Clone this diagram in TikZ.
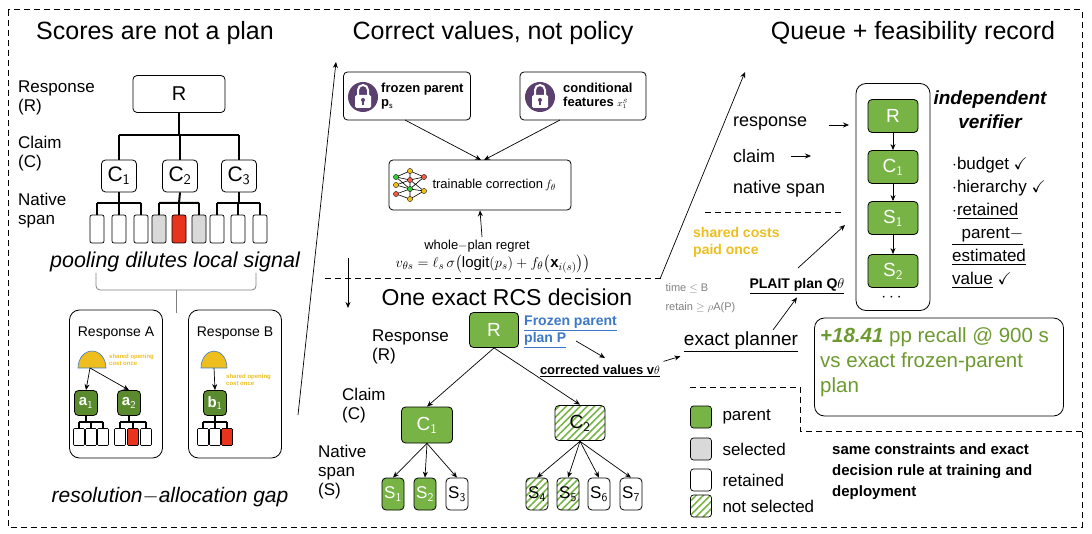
\documentclass[tikz,border=0pt]{standalone}
\usepackage{fontspec}
\setmainfont{Liberation Sans}
\usepackage{amsmath,amssymb}
\usetikzlibrary{arrows.meta,patterns.meta,calc}
\definecolor{gfill}{HTML}{78B445}
\definecolor{gdark}{HTML}{5A8A2E}
\definecolor{redb}{HTML}{E8341C}
\definecolor{grayb}{HTML}{D9D9D9}
\definecolor{yel}{HTML}{EEBE1E}
\definecolor{purp}{HTML}{5B3F6E}
\definecolor{linkb}{HTML}{3C78C8}
\definecolor{restxt}{HTML}{6D9A30}
\tikzset{
  box/.style={draw,rounded corners=4pt,line width=0.8pt},
  gbox/.style={box,fill=gfill,text=white,font=\fontsize{19}{19}\selectfont},
  hbox/.style={box,pattern={Lines[angle=45,distance=5pt,line width=1.6pt]},pattern color=gfill},
  span/.style={draw,rounded corners=2pt,line width=0.7pt,minimum width=14pt,minimum height=28pt,inner sep=0pt},
  tree/.style={line width=2pt},
  arr/.style={-{Stealth[length=6pt,width=5pt]},line width=0.7pt},
  dsh/.style={dashed,dash pattern=on 6pt off 4pt,line width=1pt},
  ttl/.style={font=\fontsize{25}{25}\selectfont},
  lbl/.style={font=\fontsize{17}{19}\selectfont,align=left,anchor=north west,inner sep=0pt},
  lg/.style={draw,rounded corners=3pt,line width=0.7pt,minimum width=21pt,minimum height=22pt,inner sep=0pt},
}
\begin{document}
\begin{tikzpicture}[x=1pt,y=-1pt]
\useasboundingbox (0,0) rectangle (1092,534);
% frame
\draw[dsh] (8,10) rectangle (1082,527);
% titles
\node[ttl] (t1) at (155,33) {Scores are not a plan};
\node[ttl] (t2) at (493,33) {Correct values, not policy};
\node[ttl] (t3) at (913,33) {Queue + feasibility record};

% ---------- left panel
\node[lbl] (lr) at (18,81) {Response\\(R)};
\node[lbl] (lc) at (18,136) {Claim\\(C)};
\node[lbl] (ln) at (18,193) {Native\\span};
\node[box,minimum width=92pt,minimum height=37pt,font=\fontsize{20}{20}\selectfont] (R0) at (179,94) {R};
\foreach \n/\x in {1/119,2/180,3/239}
  \node[box,minimum width=35pt,minimum height=32pt,font=\fontsize{21}{21}\selectfont] (C\n) at (\x,176) {C$_{\mathsf{\n}}$};
\draw[tree] (R0.south) -- (179,135) (119,135) -- (239,135);
\foreach \n/\x in {1/119,2/180,3/239} \draw[tree] (\x,135) -- (C\n.north);
\foreach \i/\x/\c in {1/97/white,2/119/white,3/141/white,4/159/grayb,5/179/redb,6/199/grayb,7/217/white,8/238/white,9/260/white}
  \node[span,fill=\c] (sp\i) at (\x,229) {};
\draw[tree] (C1.south) -- (119,203) (97,203) -- (141,203);
\draw[tree] (C2.south) -- (179,203) (159,203) -- (199,203);
\draw[tree] (C3.south) -- (239,203) (217,203) -- (260,203);
\foreach \i/\x in {1/97,2/119,3/141,4/159,5/179,6/199,7/217,8/238,9/260} \draw[tree] (\x,203) -- (sp\i.north);
\node[font=\itshape\fontsize{21.5}{21.5}\selectfont] (pool) at (175,262) {pooling dilutes local signal};
\draw[gray,line width=0.8pt,rounded corners=4pt] (96,273) -- (96,290) -- (256,290) -- (256,273);
\draw[gray,line width=0.8pt] (176,290) -- (176,313);
% Response A / B
\node[box,minimum width=93pt,minimum height=148pt,rounded corners=10pt] (RA) at (116,384) {};
\node[box,minimum width=93pt,minimum height=148pt,rounded corners=10pt] (RB) at (235,384) {};
\node[font=\fontsize{14}{14}\selectfont] (RAt) at (116,333) {Response A};
\node[font=\fontsize{14}{14}\selectfont] (RBt) at (235,333) {Response B};
\fill[yel,draw=linkb,line width=0.6pt] (78,368) arc (180:360:14 and 17) -- cycle;
\fill[yel,draw=linkb,line width=0.6pt] (201,368) arc (180:360:13 and 17) -- cycle;
\coordinate (ya) at (90,368); \coordinate (yb) at (214,368);
\node[font=\bfseries\fontsize{6}{6.5}\selectfont,text=yel,align=left,anchor=west,inner sep=0pt] (sa) at (109,360) {shared opening\\cost once};
\node[font=\bfseries\fontsize{6}{6.5}\selectfont,text=yel,align=left,anchor=west,inner sep=0pt] (sb) at (226,380) {shared opening\\cost once};
\node[box,fill=gdark,text=white,minimum width=23pt,minimum height=25pt,inner sep=0pt,font=\bfseries\fontsize{15}{15}\selectfont] (a1) at (86,403) {a$_{\mathsf 1}$};
\node[box,fill=gdark,text=white,minimum width=23pt,minimum height=25pt,inner sep=0pt,font=\bfseries\fontsize{15}{15}\selectfont] (a2) at (129,403) {a$_{\mathsf 2}$};
\node[box,fill=gdark,text=white,minimum width=23pt,minimum height=25pt,inner sep=0pt,font=\bfseries\fontsize{15}{15}\selectfont] (b1) at (215,403) {b$_{\mathsf 1}$};
\draw[arr] (ya) -- (a1.north);
\draw[arr] (ya) -- (a2.north);
\draw[arr] (yb) -- (b1.north);
\foreach \x/\c/\nm in {79/white/ka1,91/white/ka2,103/white/ka3,120/white/kb1,133/redb/kb2,146/white/kb3,203/white/kc1,215/white/kc2,227/redb/kc3}
  \node[draw,rounded corners=1pt,line width=0.6pt,fill=\c,minimum width=11pt,minimum height=17pt,inner sep=0pt] (\nm) at (\x,437) {};
\draw[line width=1.6pt] (a1.south) -- (86,422) (79,422) -- (103,422) (79,422)--(ka1.north) (91,422)--(ka2.north) (103,422)--(ka3.north);
\draw[line width=1.6pt] (a2.south) -- (129,422) (120,422) -- (146,422) (120,422)--(kb1.north) (133,422)--(kb2.north) (146,422)--(kb3.north);
\draw[line width=1.6pt] (b1.south) -- (215,422) (203,422) -- (227,422) (203,422)--(kc1.north) (215,422)--(kc2.north) (227,422)--(kc3.north);
\node[font=\itshape\fontsize{21}{21}\selectfont] (gap) at (170,497) {resolution$-$allocation gap};

% ---------- middle top
\coordinate (m1) at (298,415); \coordinate (m2) at (336,62);
\draw[arr] (m1) -- (m2);
\node[box,minimum width=127pt,minimum height=48pt] (fp) at (407,96) {};
\node[box,minimum width=126pt,minimum height=48pt] (cf) at (583,96) {};
\foreach \x in {363,540}{
  \fill[purp] (\x,97) circle (15);
  \draw[white,line width=2pt] (\x-5,96) -- (\x-5,90) arc (180:360:5 and 5) -- (\x+5,96);
  \fill[white,rounded corners=1.5pt] (\x-8,95) rectangle (\x+8,108);
  \fill[purp] (\x,100) circle (2); \fill[purp] (\x-0.9,100) rectangle (\x+0.9,105);
}
\node[font=\bfseries\fontsize{13}{14}\selectfont,align=left,anchor=west,inner sep=1pt] (fpt) at (380,96) {frozen parent\\p$_{\mathsf s}$};
\node[font=\bfseries\fontsize{13}{14}\selectfont,align=left,anchor=west,inner sep=1pt] (cft) at (562,96) {conditional\\features $\scriptstyle x_{1}^{S}$};
\node[box,minimum width=182pt,minimum height=50pt] (tc) at (480,185) {};
\node[font=\fontsize{13}{13}\selectfont,anchor=west] (tct) at (429,185) {trainable correction$\,f_\theta$};
\draw[line width=0.6pt] (396,177)--(410,171)--(424,177) (396,177)--(410,180)--(424,177) (396,185)--(410,189)--(424,191) (396,194)--(410,199)--(424,191) (410,180)--(424,191) (410,189)--(424,177) (396,177)--(410,189) (396,194)--(410,189) (410,171)--(410,199) (396,185)--(410,180);
\foreach \x/\y/\c in {396/177/green!60!gray,396/185/yel,396/194/redb!80,410/171/yel,410/180/redb!80,410/189/green!60!gray,410/199/yel,424/177/redb!80,424/191/yel}
  \fill[\c,draw=black,line width=0.3pt] (\x,\y) circle (2.6);
\draw[arr] (405,120) -- (481,160);
\draw[arr] (560,120) -- (484,160);
\coordinate (wr) at (482,237);
\draw[arr] (wr) -- (tc.south);
\node[font=\fontsize{13}{13}\selectfont] (wpr) at (477,246) {whole$-$plan regret};
\node[font=\fontsize{15}{15}\selectfont] (form) at (493,264) {$v_{\theta s}=\ell_s\,\sigma\bigl(\operatorname{logit}(p_s)+f_\theta\bigl(\mathbf{x}_{i(s)}\bigr)\bigr)$};
\draw[dsh] (325,279) -- (663,279);
\coordinate (va) at (348,258); \coordinate (vb) at (348,308);
\draw[arr] (va) -- (vb);
\coordinate (r1) at (660,279); \coordinate (r2) at (745,72);
\draw[arr] (r1) -- (r2);

% ---------- middle bottom
\node[font=\fontsize{23}{23}\selectfont] (t4) at (507,297) {One exact RCS decision};
\node[lbl] (mr) at (372,330) {Response\\(R)};
\node[lbl] (mc) at (342,388) {Claim\\(C)};
\node[lbl] (mn) at (318,445) {Native\\span\\(S)};
\node[gbox,minimum width=49pt,minimum height=35pt] (R1) at (494,330) {R};
\node[font=\bfseries\fontsize{14}{17}\selectfont,text=linkb,align=left,anchor=north west,inner sep=0pt] (fpp) at (524,316) {\underline{Frozen parent}\\\underline{plan P}};
\node[gbox,minimum width=51pt,minimum height=36pt] (C1b) at (427,425) {C$_{\mathsf 1}$};
\node[hbox,minimum width=50pt,minimum height=35pt,font=\fontsize{19}{19}\selectfont] (C2b) at (580,423) {C$_{\mathsf 2}$};
\draw[arr] (R1.south) -- (C1b.north);
\draw[arr] (R1.south) -- (C2b.north);
\foreach \n/\x in {1/393,2/425}
  \node[gbox,minimum width=22pt,minimum height=32pt,inner sep=0pt,font=\fontsize{17}{17}\selectfont] (S\n) at (\x,494) {S$_{\mathsf \n}$};
\node[box,minimum width=22pt,minimum height=32pt,inner sep=0pt,font=\fontsize{17}{17}\selectfont] (S3) at (457,494) {S$_{\mathsf 3}$};
\foreach \n/\x in {4/537,5/568}
  \node[hbox,minimum width=22pt,minimum height=32pt,inner sep=0pt,font=\fontsize{17}{17}\selectfont] (S\n) at (\x,494) {S$_{\mathsf \n}$};
\foreach \n/\x in {6/599,7/631}
  \node[box,minimum width=22pt,minimum height=32pt,inner sep=0pt,font=\fontsize{17}{17}\selectfont] (S\n) at (\x,494) {S$_{\mathsf \n}$};
\foreach \n in {1,2,3} \draw[arr] (C1b.south) -- (S\n.north);
\foreach \n in {4,5,6,7} \draw[arr] (C2b.south) -- (S\n.north);
\node[font=\bfseries\fontsize{13}{13}\selectfont] (cv) at (600,371) {\underline{corrected values v$\theta$}};
\coordinate (fa) at (576,341);
\draw[arr] (fa) -- (605,358);
\node[font=\fontsize{19}{19}\selectfont] (ep) at (741,342) {\underline{exact planner}};
\draw[arr] (cv.north east) -- (ep.south west);
\node[font=\fontsize{11}{11}\selectfont,text=gray,anchor=west] (tb) at (662,288) {time $\le$ B};
\node[font=\fontsize{11}{11}\selectfont,text=gray,anchor=west] (rt) at (662,308) {retain $\ge$ $\rho$A(P)};
\node[font=\bfseries\fontsize{14}{14}\selectfont] (pl) at (797,286) {\underline{PLAIT plan Q$\theta$}};
\draw[arr] (773,330) -- (pl.south);
\coordinate (pq) at (845,225);
\draw[arr] (798,268) -- (pq);
\node[font=\bfseries\fontsize{14}{17}\selectfont,text=yel,align=left,anchor=north west,inner sep=0pt] (sc) at (693,227) {shared costs\\paid once};
\draw[dsh] (705,213) -- (843,213);

% ---------- right top
\node[lbl,font=\fontsize{18}{18}\selectfont] (qr) at (733,117) {response};
\node[lbl,font=\fontsize{18}{18}\selectfont] (qc) at (733,149) {claim};
\node[lbl,font=\fontsize{18}{18}\selectfont] (qn) at (733,180) {native span};
\coordinate (qra) at (849,125); \coordinate (qca) at (811,156);
\draw[arr] (829,125) -- (qra);
\draw[arr] (791,156) -- (qca);
\node[box,rounded corners=10pt,minimum width=74pt,minimum height=227pt] (vq) at (893,197) {};
\node[gbox,minimum width=50pt,minimum height=33pt] (VR) at (893,116) {R};
\node[gbox,minimum width=50pt,minimum height=33pt] (VC) at (893,167) {C$_{\mathsf 1}$};
\node[gbox,minimum width=50pt,minimum height=33pt] (VS1) at (893,218) {S$_{\mathsf 1}$};
\node[gbox,minimum width=50pt,minimum height=33pt] (VS2) at (893,271) {S$_{\mathsf 2}$};
\draw[arr] (VR) -- (VC); \draw[arr] (VC) -- (VS1); \draw[arr] (VS1) -- (VS2);
\node[font=\bfseries\fontsize{18}{18}\selectfont] (dots) at (893,298) {$\cdots$};
\node[font=\bfseries\itshape\fontsize{19}{24}\selectfont,align=center] (iv) at (990,110) {independent\\verifier};
\node[lbl,font=\fontsize{17}{23}\selectfont] (vb) at (952,157) {$\cdot$budget \checkmark\\$\cdot$hierarchy \checkmark\\$\cdot$\underline{retained}\\\underline{\ \ parent$-$}\\\underline{estimated}\\\underline{value} \checkmark};

% result
\node[box,rounded corners=10pt,minimum width=249pt,minimum height=98pt] (res) at (939,367) {};
\node[font=\fontsize{20.5}{25}\selectfont,text=restxt,align=left,anchor=north west,inner sep=0pt] (rest) at (820,327) {\textbf{\textit{+18.41}} pp recall @ 900 s\\vs exact frozen-parent\\plan};
\draw[dsh] (690,387) -- (800,387) -- (800,431) -- (1082,431);
\node[font=\bfseries\fontsize{15}{21}\selectfont,align=left,anchor=north west,inner sep=0pt] (same) at (832,443) {same constraints and exact\\decision rule at training and\\deployment};

% legend
\node[lg,fill=gfill] (L1) at (701,417) {};
\node[lg,fill=grayb] (L2) at (701,449) {};
\node[lg,fill=white] (L3) at (701,480) {};
\node[lg,pattern={Lines[angle=45,distance=5pt,line width=1.6pt]},pattern color=gfill] (L4) at (701,506) {};
\node[font=\fontsize{17}{17}\selectfont,anchor=west] (LT1) at (719,417) {parent};
\node[font=\fontsize{17}{17}\selectfont,anchor=west] (LT2) at (719,449) {selected};
\node[font=\fontsize{17}{17}\selectfont,anchor=west] (LT3) at (719,480) {retained};
\node[font=\fontsize{17}{17}\selectfont,anchor=west] (LT4) at (719,506) {not selected};
\end{tikzpicture}
\end{document}
